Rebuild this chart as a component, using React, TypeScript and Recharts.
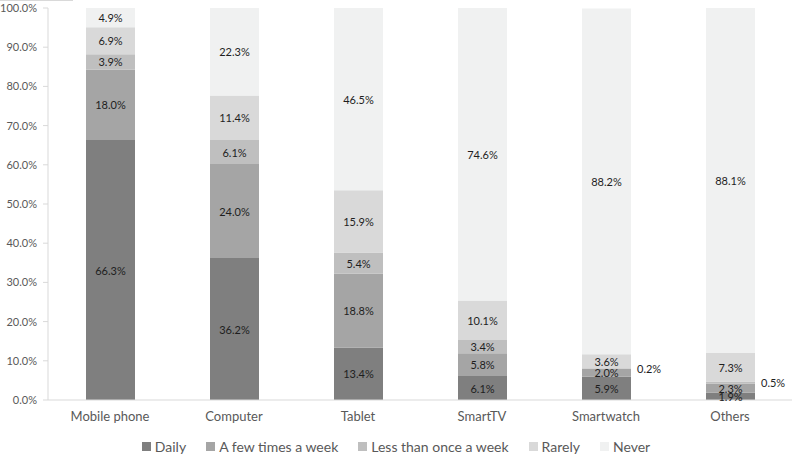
import React from 'react';
import { BarChart, Bar, XAxis, YAxis, Legend, LabelList } from 'recharts';

const categories = ['Mobile phone', 'Computer', 'Tablet', 'SmartTV', 'Smartwatch', 'Others'];
const daily = [66.3, 36.2, 13.4, 6.1, 5.9, 1.9];
const fewTimes = [18.0, 24.0, 18.8, 5.8, 2.0, 2.3];
const lessThanOnce = [3.9, 6.1, 5.4, 3.4, 0.2, 0.5];
const rarely = [6.9, 11.4, 15.9, 10.1, 3.6, 7.3];
const never = [4.9, 22.3, 46.5, 74.6, 88.2, 88.1];
const yTicks = [0, 10, 20, 30, 40, 50, 60, 70, 80, 90, 100];

const seriesDefs = [
  { key: 'daily', name: 'Daily', color: '#7f7f7f' },
  { key: 'fewTimes', name: 'A few times a week', color: '#a5a5a5' },
  { key: 'lessThanOnce', name: 'Less than once a week', color: '#bfbfbf' },
  { key: 'rarely', name: 'Rarely', color: '#d9d9d9' },
  { key: 'never', name: 'Never', color: '#f0f1f1' },
];

const data = categories.map((c, i) => ({
  category: c,
  daily: daily[i],
  fewTimes: fewTimes[i],
  lessThanOnce: lessThanOnce[i],
  rarely: rarely[i],
  never: never[i],
}));

const FONT = 'Lato, "Open Sans", sans-serif';

const renderLabel = (props: any) => {
  const { x, y, width, height, value } = props;
  const v = Number(value);
  const text = `${v.toFixed(1)}%`;
  if (v < 1) {
    return (
      <text x={x + width + 6} y={y + height / 2} textAnchor="start" dominantBaseline="central"
        fontSize={11} fill="#1e1e1e" fontFamily={FONT}>{text}</text>
    );
  }
  return (
    <text x={x + width / 2} y={y + height / 2} textAnchor="middle" dominantBaseline="central"
      fontSize={11} fill="#1e1e1e" fontFamily={FONT}>{text}</text>
  );
};

const renderLegend = () => (
  <div style={{ height: 22, display: 'flex', justifyContent: 'center', alignItems: 'center', fontFamily: FONT, fontSize: 14, color: '#595959' }}>
    {seriesDefs.map((s) => (
      <div key={s.key} style={{ display: 'flex', alignItems: 'center', margin: '0 10px' }}>
        <span style={{ display: 'inline-block', width: 9, height: 9, background: s.color, marginRight: 4 }} />
        <span>{s.name}</span>
      </div>
    ))}
  </div>
);

export default function App() {
  return (
    <div style={{ position: 'absolute', left: 0, top: 0, width: 800, height: 459, background: '#fff' }}>
      <div style={{ position: 'absolute', left: 0, top: 0, width: 73, height: 1, background: '#d9d9d9' }} />
      <BarChart width={800} height={459} data={data} barSize={49}
        margin={{ top: 8, right: 8, left: 0, bottom: 2 }}>
        <YAxis domain={[0, 100]} ticks={yTicks} allowDataOverflow width={48}
          tickFormatter={(v: number) => `${v.toFixed(1)}%`}
          tick={{ fontSize: 11, fill: '#595959', fontFamily: FONT }}
          axisLine={{ stroke: '#d9d9d9' }} tickLine={{ stroke: '#d9d9d9' }} tickSize={5} tickMargin={6} />
        <XAxis dataKey="category" tick={{ fontSize: 13, fill: '#595959', fontFamily: FONT }}
          axisLine={{ stroke: '#d9d9d9' }} tickLine={false} tickMargin={6} height={35} />
        <Legend verticalAlign="bottom" content={renderLegend} wrapperStyle={{ height: 22 }} />
        {seriesDefs.map((s) => (
          <Bar key={s.key} dataKey={s.key} name={s.name} stackId="a" fill={s.color} isAnimationActive={false}>
            <LabelList dataKey={s.key} content={renderLabel} />
          </Bar>
        ))}
      </BarChart>
    </div>
  );
}
